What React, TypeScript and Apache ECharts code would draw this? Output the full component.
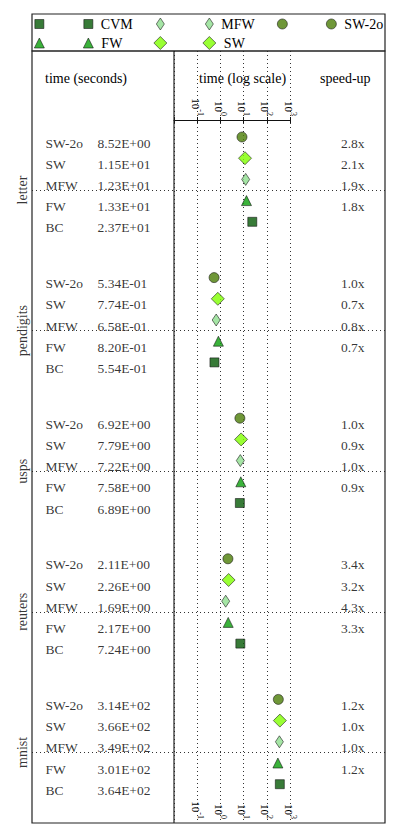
import React, { useEffect, useRef } from 'react';
import * as echarts from 'echarts';

// ---------- data ----------
const DATASETS = ['letter', 'pendigits', 'usps', 'reuters', 'mnist'];
const ROW_LABELS = ['SW-2o', 'SW', 'MFW', 'FW', 'BC'];
const TIME_SW2O = [8.52, 0.534, 6.92, 2.11, 314];
const TIME_SW = [11.5, 0.774, 7.79, 2.26, 366];
const TIME_MFW = [12.3, 0.658, 7.22, 1.69, 349];
const TIME_FW = [13.3, 0.82, 7.58, 2.17, 301];
const TIME_BC = [23.7, 0.554, 6.89, 7.24, 364];
const SPEEDUP_SW2O = [2.8, 1.0, 1.0, 3.4, 1.2];
const SPEEDUP_SW = [2.1, 0.7, 0.9, 3.2, 1.0];
const SPEEDUP_MFW = [1.9, 0.8, 1.0, 4.3, 1.0];
const SPEEDUP_FW = [1.8, 0.7, 0.9, 3.3, 1.2];
const SPEEDUP_BC: (number | null)[] = [null, null, null, null, null];
const AXIS_MIN = 0.01;
const AXIS_MAX = 1000;

// ---------- layout ----------
const W = 399;
const H = 837;
const BOX_L = 32;
const BOX_R = 385;
const LEG_T = 14;
const BOX_T = 51;
const BOX_B = 823;
const DIV_X = 174;
const PLOT_R = 290;
const AXIS_Y = 120;
const ROW_PX = 21.2;
const FIRST_ROW = (137 - BOX_T) / ROW_PX;
const GROUP_GAP = 140.6 / ROW_PX;
const Y_MAX = (BOX_B - BOX_T) / ROW_PX;
const COL_NAME = 45;
const COL_TIME = 97;
const COL_SPEED = 365;
const COL_GROUP = 22;
const TEXT_DY = 6;
const FONT = "'Liberation Serif', 'DejaVu Serif', serif";

const METHODS = [
  { name: 'SW-2o', times: TIME_SW2O, speed: SPEEDUP_SW2O, symbol: 'circle', size: 10, color: '#4b7d06', iw: 10, ih: 10, lx: 282, ly: 24 },
  { name: 'SW', times: TIME_SW, speed: SPEEDUP_SW, symbol: 'diamond', size: 13, color: '#80ff00', iw: 13, ih: 13, lx: 160, ly: 43 },
  { name: 'MFW', times: TIME_MFW, speed: SPEEDUP_MFW, symbol: 'diamond', size: [8, 12], color: '#8fdf8f', iw: 8, ih: 12, lx: 160, ly: 24 },
  { name: 'FW', times: TIME_FW, speed: SPEEDUP_FW, symbol: 'triangle', size: 10, color: '#0a9f0a', iw: 10, ih: 10, lx: 39, ly: 43 },
  { name: 'CVM', times: TIME_BC, speed: SPEEDUP_BC, symbol: 'rect', size: 9, color: '#065a06', iw: 9, ih: 9, lx: 39, ly: 24 },
];
const LEGEND_PAIR_DX = 49;

const rowPos = (g: number, k: number) => FIRST_ROW + g * GROUP_GAP + k;
const groupMid = (g: number) => FIRST_ROW + g * GROUP_GAP + 2.5;

function fmtSci(v: number) {
  const e = Math.floor(Math.log10(v) + 1e-9);
  const m = v / Math.pow(10, e);
  const sign = e < 0 ? '-' : '+';
  const ae = Math.abs(e);
  return `${m.toFixed(2)}E${sign}${ae < 10 ? '0' : ''}${ae}`;
}

function buildOption() {
  const itemBorder = { borderColor: '#111', borderWidth: 0.7 };
  const tickFormatter = (v: number) =>
    v < AXIS_MIN * 5 ? '' : `{b|10}{s|${Math.round(Math.log10(v))}}`;
  const tickRich = {
    b: { fontSize: 11, fontFamily: FONT, color: '#000', verticalAlign: 'bottom', lineHeight: 14 },
    s: { fontSize: 8, fontFamily: FONT, color: '#000', verticalAlign: 'top', lineHeight: 14 },
  };

  const nameData: any[] = [];
  const timeData: any[] = [];
  const speedData: any[] = [];
  DATASETS.forEach((_, g) => {
    METHODS.forEach((m, k) => {
      const y = rowPos(g, k);
      nameData.push({ name: ROW_LABELS[k], value: [COL_NAME, y] });
      timeData.push({ name: fmtSci(m.times[g]), value: [COL_TIME, y] });
      const s = m.speed[g];
      if (s != null) speedData.push({ name: `${s.toFixed(1)}x`, value: [COL_SPEED, y] });
    });
  });
  const groupData = DATASETS.map((d, g) => ({ name: d, value: [COL_GROUP, groupMid(g)] }));

  const textSeries = (name: string, data: any[], pos: string, extraLabel: any = {}) => ({
    name,
    type: 'scatter',
    xAxisIndex: 0,
    yAxisIndex: 0,
    data,
    symbol: 'circle',
    symbolSize: 1,
    itemStyle: { color: 'rgba(0,0,0,0)' },
    silent: true,
    clip: false,
    label: {
      show: true,
      position: pos,
      distance: 0,
      offset: [0, TEXT_DY],
      formatter: '{b}',
      fontFamily: FONT,
      fontSize: 13.5,
      color: '#000',
      ...extraLabel,
    },
  });

  const methodSeries = METHODS.map((m, k) => ({
    name: m.name,
    type: 'scatter',
    xAxisIndex: 1,
    yAxisIndex: 1,
    symbol: m.symbol,
    symbolSize: m.size,
    itemStyle: { color: m.color, ...itemBorder },
    data: DATASETS.map((_, g) => [m.times[g], rowPos(g, k)]),
  }));
  const dummySeries = METHODS.map((m) => ({
    name: '_' + m.name,
    type: 'scatter',
    xAxisIndex: 1,
    yAxisIndex: 1,
    symbol: m.symbol,
    symbolSize: m.size,
    itemStyle: { color: m.color, ...itemBorder },
    data: [],
  }));

  const legends: any[] = [];
  METHODS.forEach((m) => {
    [0, 1].forEach((j) => {
      const nm = j === 0 ? '_' + m.name : m.name;
      const cx = m.lx + j * LEGEND_PAIR_DX;
      legends.push({
        data: [{ name: nm, icon: m.symbol }],
        left: cx - m.iw / 2,
        top: m.ly - 8,
        padding: 0,
        itemWidth: m.iw,
        itemHeight: m.ih,
        selectedMode: false,
        formatter: (n: string) => (n.startsWith('_') ? ' ' : n),
        textStyle: { fontFamily: FONT, fontSize: 14, color: '#000', lineHeight: 16, padding: [0, 0, 0, 3] },
        itemStyle: { ...itemBorder },
      });
    });
  });

  const sepLines = DATASETS.map((_, g) => [
    { coord: [BOX_L, groupMid(g)] },
    { coord: [BOX_R, groupMid(g)] },
  ]);

  const hiddenY = (max: number) => ({ type: 'value', min: 0, max, inverse: true, show: false });

  return {
    animation: false,
    textStyle: { fontFamily: FONT },
    legend: legends,
    grid: [
      { left: 0, right: 0, top: BOX_T, bottom: H - BOX_B },
      { left: DIV_X, right: W - PLOT_R, top: BOX_T, bottom: H - BOX_B },
      { left: DIV_X, right: W - PLOT_R, top: AXIS_Y, bottom: H - BOX_B },
    ],
    xAxis: [
      { type: 'value', gridIndex: 0, min: 0, max: W, show: false },
      {
        type: 'log', gridIndex: 1, logBase: 10, min: AXIS_MIN, max: AXIS_MAX, position: 'bottom',
        axisLine: { show: false }, axisTick: { show: false },
        axisLabel: { inside: true, rotate: -90, margin: 4, formatter: tickFormatter, rich: tickRich },
        splitLine: { show: true, lineStyle: { type: [1, 3], color: '#333', width: 1 } },
      },
      {
        type: 'log', gridIndex: 2, logBase: 10, min: AXIS_MIN, max: AXIS_MAX, position: 'top',
        axisLine: { show: true, lineStyle: { color: '#111', width: 1.2 } },
        axisTick: { show: true, length: 3, lineStyle: { color: '#111' } },
        axisLabel: { rotate: -90, margin: 4, formatter: tickFormatter, rich: tickRich },
        splitLine: { show: false },
      },
      {
        type: 'log', gridIndex: 2, logBase: 10, min: AXIS_MIN, max: AXIS_MAX, position: 'top',
        axisLine: { show: false },
        axisTick: { show: true, inside: true, length: 3, lineStyle: { color: '#111' } },
        axisLabel: { show: false },
        splitLine: { show: false },
      },
    ],
    yAxis: [
      { ...hiddenY(Y_MAX), gridIndex: 0 },
      { ...hiddenY(Y_MAX), gridIndex: 1 },
      { ...hiddenY(1), gridIndex: 2 },
    ],
    graphic: [
      { type: 'rect', shape: { x: BOX_L, y: LEG_T, width: BOX_R - BOX_L, height: BOX_T - LEG_T }, style: { fill: 'none', stroke: '#222', lineWidth: 1.2 }, z: 10 },
      { type: 'rect', shape: { x: BOX_L, y: BOX_T, width: BOX_R - BOX_L, height: BOX_B - BOX_T }, style: { fill: 'none', stroke: '#222', lineWidth: 1.2 }, z: 10 },
      { type: 'line', shape: { x1: DIV_X, y1: BOX_T, x2: DIV_X, y2: BOX_B }, style: { stroke: '#222', lineWidth: 1.2 }, z: 10 },
      { type: 'text', x: COL_NAME, y: 78, style: { text: 'time (seconds)', font: `14px ${FONT}`, fill: '#000', verticalAlign: 'middle' } },
      { type: 'text', x: 199, y: 78, style: { text: 'time (log scale)', font: `14px ${FONT}`, fill: '#000', verticalAlign: 'middle' } },
      { type: 'text', x: 320, y: 78, style: { text: 'speed-up', font: `14px ${FONT}`, fill: '#000', verticalAlign: 'middle' } },
    ],
    series: [
      ...methodSeries,
      ...dummySeries,
      textSeries('names', nameData, 'right'),
      textSeries('times', timeData, 'right'),
      textSeries('speedups', speedData, 'left'),
      {
        ...textSeries('groups', groupData, 'inside', { rotate: 90, offset: [0, 0], fontSize: 14 }),
        markLine: {
          silent: true,
          symbol: ['none', 'none'],
          label: { show: false },
          lineStyle: { type: [1, 3], color: '#333', width: 1 },
          data: sepLines,
        },
      },
    ],
  };
}

export default function App() {
  const ref = useRef<HTMLDivElement>(null);
  useEffect(() => {
    if (!ref.current) return;
    const chart = echarts.init(ref.current, undefined, { renderer: 'svg' });
    chart.setOption(buildOption() as any);
    return () => chart.dispose();
  }, []);
  return <div ref={ref} style={{ width: W, height: H, position: 'absolute', left: 0, top: 0, background: '#fff' }} />;
}
